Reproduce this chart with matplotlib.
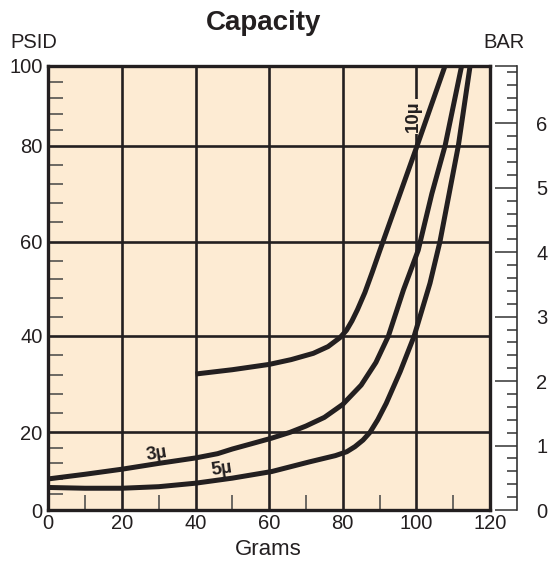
import numpy as np
import matplotlib
matplotlib.use("Agg")
import matplotlib.pyplot as plt
from matplotlib.ticker import MultipleLocator, FixedLocator

plt.rcParams['font.family'] = ['Liberation Sans', 'DejaVu Sans']

# ---------------- data (grams, PSID) ----------------
grams_10u = [40, 50, 60, 66, 72, 76, 79.3, 81, 82.5, 84, 86, 88, 90.1, 100.2, 107.8]
psid_10u = [32.1, 33.0, 34.1, 35.1, 36.4, 37.8, 39.7, 41.2, 43.2, 45.6, 49.2, 53.5, 58.2, 80.0, 100.0]

grams_3u = [0, 10, 20, 30, 40, 46, 50, 55, 60.7, 65.7, 70, 75, 80, 85, 89, 92.4,
            96.5, 100.5, 104.2, 107.8, 112.3]
psid_3u = [8.0, 9.2, 10.5, 12.0, 13.4, 14.5, 15.7, 17.0, 18.5, 20.0, 21.3, 23.1, 25.8,
           29.8, 34.5, 40.0, 49.8, 58.2, 70.0, 80.0, 100.0]

grams_5u = [0, 10, 20, 30, 40, 50, 60.7, 71, 78, 81.1, 83.3, 85.5, 87.4, 89.5, 91.8, 95.6, 99.4,
            103.7, 106.4, 111.4, 114.6]
psid_5u = [5.8, 5.6, 5.6, 6.0, 6.9, 8.2, 9.9, 12.4, 14.0, 15.0, 16.3, 18.0, 20.0, 22.6, 26.0, 32.6,
           40.0, 51.2, 60.0, 80.0, 100.0]

x_ticks = [0, 20, 40, 60, 80, 100, 120]
y_ticks = [0, 20, 40, 60, 80, 100]
bar_ticks = [0, 1, 2, 3, 4, 5, 6]
PSI_PER_BAR = 14.5038

# ---------------- the printed chart's (uneven) PSID scale ----------------
Y_KNOTS = [-100, 0, 20, 40, 60, 80, 100, 200]
Y_POS = [-388.5, 0, 77.7, 174.0, 268.3, 364.3, 444.3, 844.3]

def fwd(v):
    return np.interp(v, Y_KNOTS, Y_POS)

def inv(p):
    return np.interp(p, Y_POS, Y_KNOTS)

INK = '#231f20'
BG = '#FDEBD3'

W, H = 550, 562
fig = plt.figure(figsize=(W / 100, H / 100), dpi=100)
L, R, T, B = 48.3, 490, 65.7, 510
ax = fig.add_axes([L / W, 1 - B / H, (R - L) / W, (B - T) / H])
ax.set_facecolor(BG)
ax.set_yscale('function', functions=(fwd, inv))
ax.set_xlim(0, 120)
ax.set_ylim(0, 100)

ax.set_xticks(x_ticks)
ax.set_yticks(y_ticks)
ax.xaxis.set_minor_locator(MultipleLocator(10))
ax.yaxis.set_minor_locator(FixedLocator([v for v in np.arange(0, 101, 4) if v % 20 != 0]))
ax.tick_params(which='major', length=0, labelsize=14.5, colors='#231f20')
ax.tick_params(axis='x', which='major', pad=3)
ax.tick_params(axis='y', which='major', pad=4)
ax.tick_params(which='minor', direction='in', length=11, width=1.1, color='#444')
ax.tick_params(axis='x', which='minor', bottom=True, top=False)
ax.tick_params(axis='y', which='minor', left=True, right=False)
ax.grid(which='major', color=INK, lw=1.9, zorder=1)
ax.set_axisbelow(True)
for s in ax.spines.values():
    s.set_linewidth(2.4)
    s.set_color(INK)
    s.set_zorder(5)

for g, p in [(grams_10u, psid_10u), (grams_3u, psid_3u), (grams_5u, psid_5u)]:
    ax.plot(g, p, color=INK, lw=3.6, solid_capstyle='butt', solid_joinstyle='round', zorder=4)

lab = dict(fontsize=13.5, fontweight='bold', color=INK, ha='center', va='center',
           rotation_mode='anchor')
ax.text(29.5, 14.4, '3µ', rotation=9, **lab)
ax.text(47.1, 10.6, '5µ', rotation=8, **lab)
ax.text(99.3, 87.4, '10µ', rotation=90, zorder=3,
        bbox=dict(facecolor=BG, edgecolor='none', pad=1.2), **lab)

# ---------------- BAR axis ----------------
ax2 = ax.twinx()
ax2.set_ylim(0, 100 / PSI_PER_BAR)
for k in ['left', 'top', 'bottom']:
    ax2.spines[k].set_visible(False)
ax2.spines['right'].set_position(('outward', 19.4))
ax2.spines['right'].set_linewidth(1.2)
ax2.spines['right'].set_color('#333')
ax2.set_yticks(bar_ticks + [100 / PSI_PER_BAR],
               labels=[str(b) for b in bar_ticks] + [''])
ax2.yaxis.set_minor_locator(MultipleLocator(0.2))
ax2.tick_params(axis='y', which='major', direction='in', length=15.8, width=1.1,
                color='#333', pad=14, labelsize=14.5, labelcolor=INK)
ax2.tick_params(axis='y', which='minor', direction='in', length=7.2, width=1.1, color='#333')

# ---------------- texts ----------------
fig.text(264 / W, 1 - 30 / H, 'Capacity', ha='center', va='baseline',
         fontsize=20, fontweight='bold', color=INK)
fig.text(10 / W, 1 - 48 / H, 'PSID', ha='left', va='baseline', fontsize=14.5, color=INK)
fig.text(525 / W, 1 - 48 / H, 'BAR', ha='right', va='baseline', fontsize=14.5, color=INK)
fig.text(268.5 / W, 1 - 555 / H, 'Grams', ha='center', va='baseline', fontsize=16, color=INK)

fig.savefig('out.png', dpi=100, facecolor='white')
